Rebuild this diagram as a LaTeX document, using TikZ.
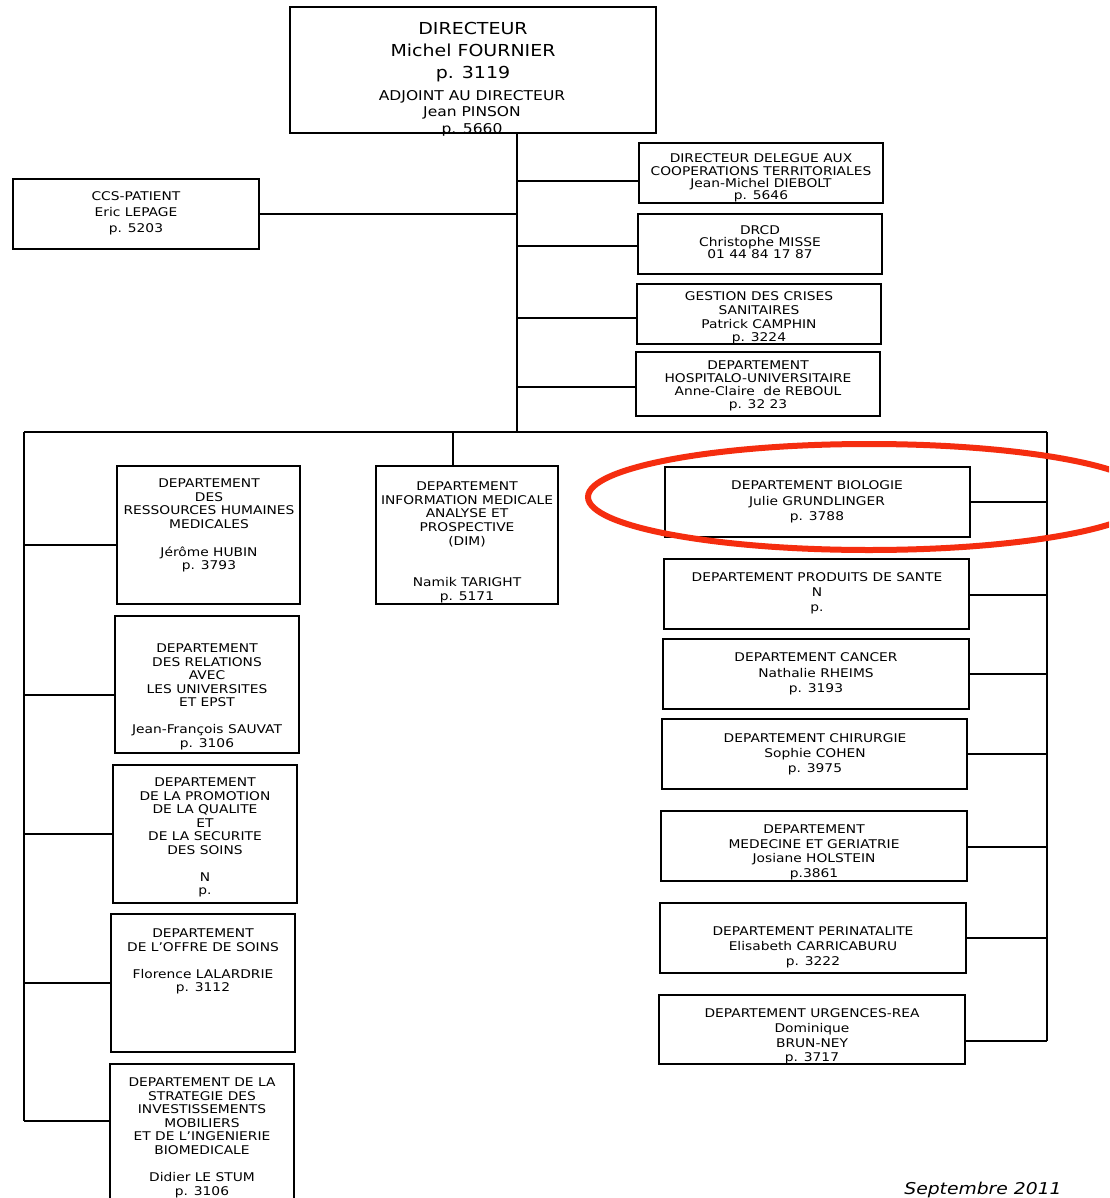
\documentclass[tikz,border=0pt]{standalone}
\usepackage{fontspec}
\setmainfont{DejaVu Sans}[FakeStretch=1.15]
\definecolor{hlred}{RGB}{245,45,15}
\newcommand{\obox}[5]{\node[box, minimum width={(#4-#2)*1pt}, minimum height={(#5-#3)*1pt}] (#1) at ({(#2+#4)/2},{(#3+#5)/2}) {};}
\tikzset{
  box/.style={draw, line width=1.6pt, inner sep=0pt},
  txt/.style={align=center, inner sep=0pt, anchor=north},
  conn/.style={line width=1.5pt},
  hl/.style={draw=hlred, line width=6pt},
}
\begin{document}
\begin{tikzpicture}[x=1pt,y=-1pt]
\useasboundingbox (0,0) rectangle (1109,1198);
\clip (0,0) rectangle (1109,1198);
\fill[white] (0,0) rectangle (1109,1198);

% top
\obox{dir}{290}{7}{656}{133}
\node[txt, font=\fontsize{16.5}{22}\selectfont] (dir-t1) at (473,22) {DIRECTEUR\\Michel FOURNIER\\p. 3119};
\node[txt, font=\fontsize{13.5}{16.5}\selectfont] (dir-t2) at (472,90.1) {ADJOINT AU DIRECTEUR\\Jean PINSON\\p. 5660};

\obox{ccs}{13}{179}{259}{249}
\node[txt, font=\fontsize{12}{16}\selectfont] (ccs-t) at (136,191.6) {CCS-PATIENT\\Eric LEPAGE\\p. 5203};

\obox{del}{639}{143}{883}{203}
\node[txt, font=\fontsize{12}{12.3}\selectfont] (del-t) at (761,153.6) {DIRECTEUR DELEGUE AUX\\COOPERATIONS TERRITORIALES\\Jean-Michel DIEBOLT\\p. 5646};

\obox{drcd}{638}{214}{882}{274}
\node[txt, font=\fontsize{12}{12}\selectfont] (drcd-t) at (760,225.6) {DRCD\\Christophe MISSE\\01 44 84 17 87};

\obox{crise}{637}{284}{881}{344}
\node[txt, font=\fontsize{12}{13.7}\selectfont] (crise-t) at (759,291.6) {GESTION DES CRISES\\SANITAIRES\\Patrick CAMPHIN\\p. 3224};

\obox{dhu}{636}{352}{880}{416}
\node[txt, font=\fontsize{12}{13}\selectfont] (dhu-t) at (758,360.6) {DEPARTEMENT\\HOSPITALO-UNIVERSITAIRE\\Anne-Claire~ de REBOUL\\p. 32 23};

% left column
\obox{rh}{117}{466}{300}{604}
\node[txt, font=\fontsize{12}{13.7}\selectfont] (rh-t) at (209,478.6) {DEPARTEMENT\\DES\\RESSOURCES HUMAINES\\MEDICALES\\[13.7pt]Jérôme HUBIN\\p. 3793};

\obox{dim}{376}{466}{558}{604}
\node[txt, font=\fontsize{12}{13.7}\selectfont] (dim-t) at (467,481.6) {DEPARTEMENT\\INFORMATION MEDICALE\\ANALYSE ET\\PROSPECTIVE\\(DIM)\\[27.4pt]Namik TARIGHT\\p. 5171};

\obox{rel}{115}{616}{299}{753}
\node[txt, font=\fontsize{12}{13.5}\selectfont] (rel-t) at (207,643.6) {DEPARTEMENT\\DES RELATIONS\\AVEC\\LES UNIVERSITES\\ET EPST\\[13.5pt]Jean-François SAUVAT\\p. 3106};

\obox{promo}{113}{765}{297}{903}
\node[txt, font=\fontsize{12}{13.5}\selectfont] (promo-t) at (205,777.6) {DEPARTEMENT\\DE LA PROMOTION\\DE LA QUALITE\\ET\\DE LA SECURITE\\DES SOINS\\[13.5pt]N\\p.};

\obox{offre}{111}{914}{295}{1052}
\node[txt, font=\fontsize{12}{13.5}\selectfont] (offre-t) at (203,928.6) {DEPARTEMENT\\DE L’OFFRE DE SOINS\\[13.5pt]Florence LALARDRIE\\p. 3112};

\obox{strat}{110}{1064}{294}{1220}
\node[txt, font=\fontsize{12}{13.6}\selectfont] (strat-t) at (202,1077.6) {DEPARTEMENT DE LA\\STRATEGIE DES\\INVESTISSEMENTS\\MOBILIERS\\ET DE L’INGENIERIE\\BIOMEDICALE\\[13.6pt]Didier LE STUM\\p. 3106};

% right column
\obox{bio}{665}{467}{970}{537}
\node[txt, font=\fontsize{12}{15.5}\selectfont] (bio-t) at (817,480.6) {DEPARTEMENT BIOLOGIE\\Julie GRUNDLINGER\\p. 3788};

\obox{prod}{664}{559}{969}{629}
\node[txt, font=\fontsize{12}{15}\selectfont] (prod-t) at (817,572.6) {DEPARTEMENT PRODUITS DE SANTE\\N\\p.};

\obox{cancer}{663}{639}{969}{709}
\node[txt, font=\fontsize{12}{15.5}\selectfont] (cancer-t) at (816,652.6) {DEPARTEMENT CANCER\\Nathalie RHEIMS\\p. 3193};

\obox{chir}{662}{719}{967}{789}
\node[txt, font=\fontsize{12}{15}\selectfont] (chir-t) at (815,733.6) {DEPARTEMENT CHIRURGIE\\Sophie COHEN\\p. 3975};

\obox{med}{661}{811}{967}{881}
\node[txt, font=\fontsize{12}{14.7}\selectfont] (med-t) at (814,824.6) {DEPARTEMENT\\MEDECINE ET GERIATRIE\\Josiane HOLSTEIN\\p.3861};

\obox{peri}{660}{903}{966}{973}
\node[txt, font=\fontsize{12}{15}\selectfont] (peri-t) at (813,926.6) {DEPARTEMENT PERINATALITE\\Elisabeth CARRICABURU\\p. 3222};

\obox{urg}{659}{995}{965}{1064}
\node[txt, font=\fontsize{12}{14.7}\selectfont] (urg-t) at (812,1008.6) {DEPARTEMENT URGENCES-REA\\Dominique\\BRUN-NEY\\p. 3717};

% connector points
\coordinate (t0) at (517,133);
\coordinate (t1) at (517,432);
\coordinate (bl) at (24,432);
\coordinate (br) at (1047,432);
\coordinate (lend) at (24,1121);
\coordinate (rend) at (1047,1041);
\coordinate (dimtop) at (453,432);
\coordinate (delb) at ([yshift=-8pt]del.west);
\coordinate (drcdb) at ([yshift=-2pt]drcd.west);
\coordinate (criseb) at ([yshift=-4pt]crise.west);
\coordinate (dhub) at ([yshift=-3pt]dhu.west);
\coordinate (rhb) at ([yshift=-10pt]rh.west);
\coordinate (relb) at ([yshift=-10.5pt]rel.west);
\coordinate (prodb) at ([yshift=-1pt]prod.east);
\coordinate (medb) at ([yshift=-1pt]med.east);

% connectors
\draw[conn] (t0) -- (t1);
\draw[conn] (ccs.east) -- (ccs.east -| t0);
\draw[conn] (delb) -- (delb -| t0);
\draw[conn] (drcdb) -- (drcdb -| t0);
\draw[conn] (criseb) -- (criseb -| t0);
\draw[conn] (dhub) -- (dhub -| t0);
\draw[conn] (bl) -- (br);
\draw[conn] (dimtop) -- (dimtop |- dim.north);
\draw[conn] (bl) -- (lend);
\draw[conn] (br) -- (rend);
\draw[conn] (rhb) -- (rhb -| bl);
\draw[conn] (relb) -- (relb -| bl);
\draw[conn] (promo.west) -- (promo.west -| bl);
\draw[conn] (offre.west) -- (offre.west -| bl);
\draw[conn] (strat.west |- lend) -- (lend);
\draw[conn] (bio.east) -- (bio.east -| br);
\draw[conn] (prodb) -- (prodb -| br);
\draw[conn] (cancer.east) -- (cancer.east -| br);
\draw[conn] (chir.east) -- (chir.east -| br);
\draw[conn] (medb) -- (medb -| br);
\draw[conn] (peri.east) -- (peri.east -| br);
\draw[conn] (urg.east |- rend) -- (rend);

% highlight
\draw[hl] (869,497) ellipse [x radius=281, y radius=53];

\node[font=\fontsize{16.3}{18}\selectfont\itshape, anchor=base, inner sep=0pt] (date) at (983,1194) {Septembre 2011};
\end{tikzpicture}
\end{document}
